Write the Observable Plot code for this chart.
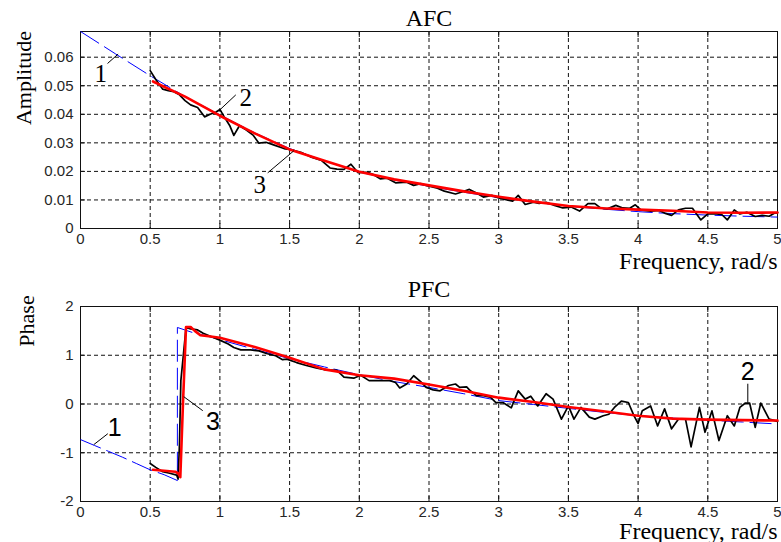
<!DOCTYPE html>
<html>
<head>
<meta charset="utf-8">
<script src="https://cdn.jsdelivr.net/npm/d3@7"></script>
<script src="https://cdn.jsdelivr.net/npm/@observablehq/plot@0.6"></script>
<style>
  html, body { margin: 0; padding: 0; background: #fff; }
  #chart svg { display: block; }
</style>
</head>
<body>
<div id="chart"></div>
<script>
// ---------- data ----------
const xTicks = [0, 0.5, 1, 1.5, 2, 2.5, 3, 3.5, 4, 4.5, 5];
const afcTicks = [0, 0.01, 0.02, 0.03, 0.04, 0.05, 0.06];
const pfcTicks = [-2, -1, 0, 1, 2];

// curve 1: theoretical (blue dashed)
const afcTheory = [[0,0.069],[0.25,0.0612],[0.5,0.0535],[0.75,0.0462],[1.0,0.0398],[1.25,0.0335],[1.5,0.028],[1.75,0.0237],[2.0,0.0198],[2.25,0.017],[2.5,0.0148],[2.75,0.0127],[3.0,0.0108],[3.25,0.0092],[3.5,0.0078],[3.75,0.0068],[4.0,0.0059],[4.25,0.0052],[4.5,0.0047],[4.75,0.0043],[5.0,0.0040]];
// curve 2: measured (black)
const afcMeasured = [[0.50,0.0553],[0.54,0.0522],[0.59,0.0488],[0.63,0.0483],[0.67,0.0479],[0.71,0.0468],[0.75,0.0448],[0.79,0.0433],[0.84,0.0424],[0.89,0.0391],[0.93,0.0400],[0.97,0.0407],[1.00,0.0417],[1.03,0.0392],[1.07,0.0361],[1.10,0.0326],[1.14,0.0360],[1.19,0.0345],[1.24,0.0326],[1.28,0.0299],[1.33,0.0302],[1.39,0.0292],[1.46,0.0280],[1.52,0.0275],[1.58,0.0267],[1.65,0.0251],[1.73,0.0238],[1.79,0.0212],[1.84,0.0208],[1.89,0.0207],[1.94,0.0225],[1.99,0.0196],[2.06,0.0197],[2.10,0.0189],[2.15,0.0174],[2.20,0.0176],[2.26,0.0160],[2.34,0.0162],[2.39,0.0151],[2.44,0.0157],[2.48,0.0151],[2.56,0.0141],[2.61,0.0131],[2.69,0.0121],[2.73,0.0127],[2.79,0.0137],[2.84,0.0124],[2.89,0.0110],[2.95,0.0116],[3.00,0.0107],[3.06,0.0100],[3.10,0.0096],[3.14,0.0116],[3.19,0.0084],[3.25,0.0092],[3.29,0.0088],[3.34,0.0092],[3.40,0.0081],[3.46,0.0072],[3.52,0.0075],[3.58,0.0061],[3.64,0.0087],[3.69,0.0087],[3.73,0.0072],[3.78,0.0069],[3.84,0.0081],[3.89,0.0072],[3.94,0.0071],[3.98,0.0083],[4.02,0.0065],[4.09,0.0061],[4.15,0.0063],[4.19,0.0054],[4.24,0.0046],[4.29,0.0065],[4.34,0.0071],[4.39,0.0071],[4.45,0.0030],[4.50,0.0051],[4.56,0.0051],[4.60,0.0049],[4.64,0.0030],[4.69,0.0065],[4.73,0.0051],[4.78,0.0057],[4.84,0.0042],[4.89,0.0046],[4.94,0.0043],[4.98,0.0054],[5.00,0.0055]];
// curve 3: smoothed estimate (red)
const afcSmoothed = [[0.52,0.0515],[0.75,0.0462],[1.0,0.0395],[1.25,0.0333],[1.5,0.0277],[1.75,0.0237],[2.0,0.0199],[2.25,0.0172],[2.5,0.0151],[2.75,0.0130],[3.0,0.0111],[3.25,0.0094],[3.5,0.0079],[3.75,0.0071],[4.0,0.0066],[4.25,0.0062],[4.5,0.0056],[4.75,0.0055],[5.0,0.0056]];

const pfcTheory = [[0,-0.73],[0.1,-0.85],[0.2,-0.97],[0.3,-1.09],[0.4,-1.22],[0.5,-1.35],[0.6,-1.45],[0.695,-1.57],[0.695,1.57],[0.8,1.47],[0.9,1.40],[1.0,1.32],[1.25,1.12],[1.5,0.93],[1.75,0.76],[2.0,0.60],[2.25,0.46],[2.5,0.34],[2.75,0.21],[3.0,0.07],[3.25,-0.01],[3.5,-0.09],[3.75,-0.17],[4.0,-0.24],[4.25,-0.29],[4.5,-0.33],[4.75,-0.37],[5.0,-0.41]];
const pfcMeasured = [[0.50,-1.22],[0.54,-1.30],[0.59,-1.39],[0.64,-1.42],[0.69,-1.46],[0.70,-1.54],[0.71,-0.82],[0.72,0.48],[0.757,1.57],[0.79,1.54],[0.84,1.52],[0.88,1.45],[0.94,1.38],[1.00,1.31],[1.06,1.23],[1.10,1.16],[1.15,1.11],[1.22,1.11],[1.28,1.09],[1.34,1.03],[1.40,0.99],[1.45,0.91],[1.48,0.92],[1.55,0.85],[1.62,0.79],[1.69,0.74],[1.76,0.70],[1.84,0.69],[1.89,0.55],[1.96,0.53],[2.01,0.59],[2.07,0.48],[2.14,0.48],[2.22,0.48],[2.26,0.44],[2.29,0.33],[2.34,0.41],[2.39,0.58],[2.44,0.46],[2.48,0.34],[2.53,0.29],[2.58,0.27],[2.64,0.38],[2.69,0.41],[2.72,0.34],[2.77,0.35],[2.79,0.29],[2.84,0.17],[2.89,0.17],[2.94,0.14],[2.98,0.03],[3.03,0.03],[3.09,-0.08],[3.14,0.27],[3.19,0.10],[3.23,0.16],[3.28,-0.04],[3.34,0.21],[3.39,0.10],[3.45,-0.31],[3.50,-0.04],[3.54,-0.31],[3.59,-0.07],[3.65,-0.27],[3.69,-0.31],[3.75,-0.24],[3.79,-0.21],[3.83,-0.07],[3.88,0.06],[3.93,0.03],[3.97,-0.24],[4.00,-0.40],[4.03,-0.14],[4.09,-0.04],[4.14,-0.45],[4.19,-0.10],[4.24,-0.51],[4.29,-0.31],[4.34,-0.31],[4.38,-0.88],[4.44,-0.07],[4.48,-0.58],[4.53,-0.14],[4.58,-0.75],[4.64,-0.24],[4.69,-0.45],[4.73,-0.07],[4.77,0.02],[4.80,0.02],[4.84,-0.48],[4.88,0.02],[4.94,-0.31],[4.98,-0.34],[5.00,-0.36]];
const pfcSmoothed = [[0.52,-1.35],[0.60,-1.37],[0.68,-1.39],[0.70,-1.42],[0.716,-1.50],[0.735,0.0],[0.757,1.58],[0.79,1.58],[0.82,1.50],[0.86,1.41],[0.92,1.39],[1.00,1.36],[1.25,1.17],[1.50,0.95],[1.75,0.71],[2.00,0.59],[2.25,0.52],[2.50,0.40],[2.75,0.27],[3.00,0.13],[3.25,0.04],[3.50,-0.06],[3.75,-0.15],[4.00,-0.24],[4.25,-0.30],[4.50,-0.32],[4.75,-0.33],[5.00,-0.34]];

// curve number labels and their leader lines (data coordinates)
const afcNotes = [{label: "1", x: 0.146, y: 0.054}, {label: "2", x: 1.186, y: 0.0458}, {label: "3", x: 1.286, y: 0.0153}];
const afcLeaders = [
  {x1: 0.194, y1: 0.0578, x2: 0.270, y2: 0.0611},
  {x1: 1.114, y1: 0.0468, x2: 0.992, y2: 0.0412},
  {x1: 1.343, y1: 0.0195, x2: 1.530, y2: 0.0272}
];
const pfcNotes = [{label: "1", x: 0.246, y: -0.50}, {label: "3", x: 0.95, y: -0.37}, {label: "2", x: 4.787, y: 0.66}];
const pfcLeaders = [
  {x1: 0.196, y1: -0.609, x2: 0.095, y2: -0.834},
  {x1: 0.877, y1: -0.137, x2: 0.741, y2: 0.150},
  {x1: 4.787, y1: 0.416, x2: 4.787, y2: 0.027}
];

const titles = {afc: "AFC", pfc: "PFC"};
const yLabels = {afc: "Amplitude", pfc: "Phase"};
const xLabel = "Frequency, rad/s";

// ---------- drawing ----------
const SERIF = "Liberation Serif, Times New Roman, serif";
const SANS = "Liberation Sans, Arial, sans-serif";
const fmt = d => String(+(+d).toFixed(2));

function panel(o) {
  const inner = xTicks.filter(d => d > 0 && d < 5);
  const innerY = o.yTicks.filter(d => d > o.yDomain[0] && d < o.yDomain[1]);
  return Plot.plot({
    width: 781, height: 271,
    marginLeft: 80, marginRight: 4, marginTop: o.mt, marginBottom: 271 - o.mt - o.ph,
    x: {domain: [0, 5]},
    y: {domain: o.yDomain},
    style: {background: "#fff", overflow: "visible"},
    marks: [
      Plot.gridX(inner, {stroke: "#111", strokeOpacity: 1, strokeDasharray: "4,3"}),
      Plot.gridY(innerY, {stroke: "#111", strokeOpacity: 1, strokeDasharray: "4,3"}),
      Plot.axisX(xTicks, {anchor: "bottom", tickSize: 0, tickPadding: 5, fontSize: 15, fontFamily: SANS, fill: "#262626", tickFormat: fmt, label: null}),
      Plot.axisX(xTicks, {anchor: "bottom", tickSize: 5, dy: -5, fill: "none", stroke: "#111", label: null}),
      Plot.axisX(xTicks, {anchor: "top", tickSize: 5, dy: 5, fill: "none", stroke: "#111", label: null}),
      Plot.axisY(o.yTicks, {anchor: "left", tickSize: 0, tickPadding: 7, fontSize: 15, fontFamily: SANS, fill: "#262626", tickFormat: fmt, label: null}),
      Plot.axisY(o.yTicks, {anchor: "left", tickSize: 5, dx: 5, fill: "none", stroke: "#111", label: null}),
      Plot.axisY(o.yTicks, {anchor: "right", tickSize: 5, dx: -5, fill: "none", stroke: "#111", label: null}),
      Plot.frame({stroke: "#111"}),
      Plot.line(o.theory, {stroke: "#0000ff", strokeWidth: 1, strokeDasharray: "22,6", strokeLinecap: "butt"}),
      Plot.line(o.measured, {stroke: "#000", strokeWidth: 1.7}),
      Plot.line(o.smoothed, {stroke: "#ff0000", strokeWidth: 2.6}),
      Plot.link(o.leaders, {x1: "x1", y1: "y1", x2: "x2", y2: "y2", stroke: "#000", strokeWidth: 1}),
      Plot.text(o.notes, {x: "x", y: "y", text: "label", fontSize: o.noteSize, fontFamily: o.noteFont, fill: "#000"}),
      Plot.text([o.title], {frameAnchor: "top", lineAnchor: "middle", textAnchor: "middle", dy: o.titleDy, fontSize: 24, fontFamily: SERIF, fill: "#000"}),
      Plot.text([xLabel], {frameAnchor: "bottom-right", lineAnchor: "middle", textAnchor: "end", dy: o.xLabelDy, fontSize: 24, fontFamily: SERIF, fill: "#000", letterSpacing: "0.6px"}),
      Plot.text([o.yLabel], {frameAnchor: "left", lineAnchor: "middle", textAnchor: "middle", rotate: -90, dx: o.yLabelDx, dy: o.yLabelDy, fontSize: 22, fontFamily: SERIF, fill: "#000"})
    ]
  });
}

const chart = document.getElementById("chart");
chart.append(panel({
  mt: 31, ph: 197, yDomain: [0, 0.069], yTicks: afcTicks,
  theory: afcTheory, measured: afcMeasured, smoothed: afcSmoothed,
  notes: afcNotes, leaders: afcLeaders, noteFont: SERIF, noteSize: 25,
  title: titles.afc, titleDy: -13, xLabelDy: 33, yLabel: yLabels.afc, yLabelDx: -57, yLabelDy: -52
}));
chart.append(panel({
  mt: 35, ph: 195, yDomain: [-2, 2], yTicks: pfcTicks,
  theory: pfcTheory, measured: pfcMeasured, smoothed: pfcSmoothed,
  notes: pfcNotes, leaders: pfcLeaders, noteFont: SANS, noteSize: 25,
  title: titles.pfc, titleDy: -17, xLabelDy: 30, yLabel: yLabels.pfc, yLabelDx: -54, yLabelDy: -83
}));
</script>
</body>
</html>
